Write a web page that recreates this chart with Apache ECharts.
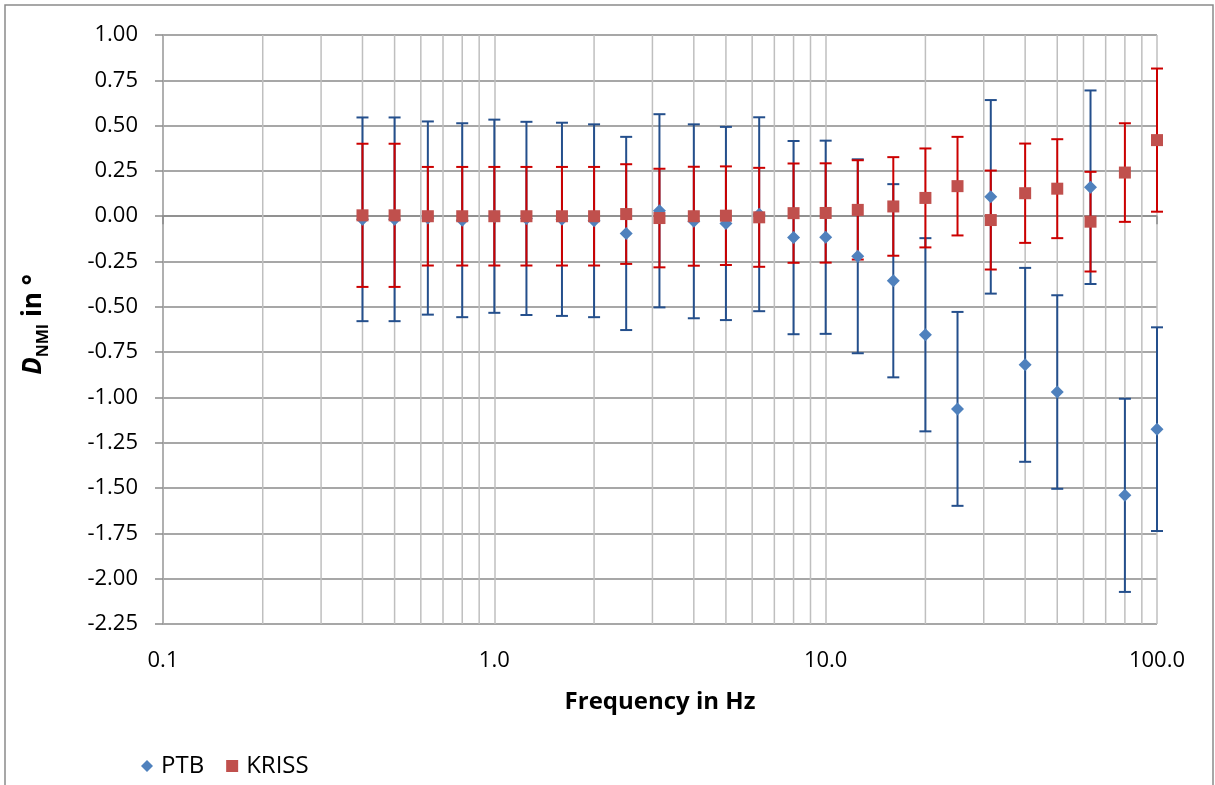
<!DOCTYPE html>
<html>
<head>
<meta charset="utf-8">
<script src="https://cdn.jsdelivr.net/npm/echarts@6/dist/echarts.min.js"></script>
<style>
  html, body { margin: 0; padding: 0; background: #fff; }
  #chart { width: 1215px; height: 785px; }
</style>
</head>
<body>
<div id="chart"></div>
<script>
// frequencies in Hz
var freq = [0.4, 0.5, 0.63, 0.8, 1.0, 1.25, 1.6, 2.0, 2.5, 3.15, 4.0, 5.0, 6.3, 8.0, 10, 12.5, 16, 20, 25, 31.5, 40, 50, 63, 80, 100];

var ptbVal = [-0.017, -0.017, -0.01, -0.022, 0.0, -0.012, -0.017, -0.025, -0.095, 0.03, -0.028, -0.04, 0.011, -0.118, -0.116, -0.221, -0.356, -0.654, -1.063, 0.107, -0.82, -0.97, 0.16, -1.54, -1.175];
var ptbErr = [0.562, 0.562, 0.533, 0.535, 0.533, 0.533, 0.533, 0.532, 0.533, 0.533, 0.535, 0.533, 0.535, 0.533, 0.533, 0.535, 0.533, 0.533, 0.535, 0.534, 0.535, 0.534, 0.534, 0.533, 0.562];

var krissVal = [0.005, 0.005, 0.0, 0.0, 0.0, 0.0, 0.0, 0.0, 0.012, -0.01, 0.0, 0.003, -0.006, 0.017, 0.018, 0.035, 0.054, 0.101, 0.166, -0.021, 0.127, 0.152, -0.03, 0.241, 0.42];
var krissErr = [0.395, 0.395, 0.272, 0.272, 0.272, 0.272, 0.272, 0.272, 0.275, 0.272, 0.273, 0.272, 0.273, 0.274, 0.274, 0.274, 0.272, 0.273, 0.272, 0.273, 0.274, 0.273, 0.275, 0.272, 0.395];

// minor log gridlines
var minorGrid = [0.2, 0.3, 0.4, 0.5, 0.6, 0.7, 0.8, 0.9, 2, 3, 4, 5, 6, 7, 8, 9, 20, 30, 40, 50, 60, 70, 80, 90];

var yMin = -2.25, yMax = 1.0;
var font = 'Open Sans';

var chart = echarts.init(document.getElementById('chart'));

function points(vals) {
    return freq.map(function (f, i) { return [f, vals[i]]; });
}
function bars(vals, errs) {
    return freq.map(function (f, i) { return [f, vals[i] - errs[i], vals[i] + errs[i]]; });
}

function errorBar(color) {
    return function (params, api) {
        var top = api.coord([api.value(0), api.value(2)]);
        var bot = api.coord([api.value(0), api.value(1)]);
        var hw = 6;
        var st = { stroke: color, lineWidth: 2 };
        return {
            type: 'group',
            children: [
                { type: 'line', shape: { x1: top[0], y1: top[1], x2: bot[0], y2: bot[1] }, style: st },
                { type: 'line', shape: { x1: top[0] - hw, y1: top[1], x2: top[0] + hw, y2: top[1] }, style: st },
                { type: 'line', shape: { x1: bot[0] - hw, y1: bot[1], x2: bot[0] + hw, y2: bot[1] }, style: st }
            ]
        };
    };
}

option = {
    animation: false,
    textStyle: { fontFamily: font },
    graphic: [{
        type: 'rect',
        shape: { x: 5, y: 5, width: 1208, height: 800 },
        style: { fill: null, stroke: '#8a8a8a', lineWidth: 1.5 },
        silent: true
    }],
    grid: {
        left: 163,
        right: 58,
        top: 35,
        bottom: 161
    },
    legend: {
        data: ['PTB', 'KRISS'],
        left: 136,
        top: 749,
        itemWidth: 12,
        itemHeight: 12,
        itemGap: 22,
        textStyle: { fontFamily: font, fontSize: 24, color: '#000', padding: [0, 0, 0, 3] }
    },
    xAxis: {
        type: 'log',
        logBase: 10,
        min: 0.1,
        max: 100,
        name: 'Frequency in Hz',
        nameLocation: 'middle',
        nameGap: 66,
        nameTextStyle: { fontFamily: font, fontSize: 24, fontWeight: 'bold', color: '#000' },
        axisLine: { lineStyle: { color: '#8a8a8a', width: 1.5 } },
        axisTick: { show: true, length: 8, lineStyle: { color: '#8a8a8a', width: 1.5 } },
        axisLabel: {
            margin: 26,
            fontSize: 22,
            color: '#000',
            showMinLabel: true,
            showMaxLabel: true,
            formatter: function (v) { return v.toFixed(1); }
        },
        splitLine: { show: true, lineStyle: { color: '#bfbfbf', width: 1.5 } }
    },
    yAxis: {
        type: 'value',
        min: yMin,
        max: yMax,
        interval: 0.25,
        name: '{i|D}{s|NMI}{b| in °}',
        nameLocation: 'middle',
        nameGap: 112,
        nameTextStyle: {
            padding: [0, 0, 0, 10],
            rich: {
                i: { fontFamily: font, fontSize: 26, fontWeight: 'bold', fontStyle: 'italic', color: '#000', lineHeight: 34, verticalAlign: 'middle' },
                s: { fontFamily: font, fontSize: 16, fontWeight: 'bold', color: '#000', lineHeight: 16, verticalAlign: 'bottom' },
                b: { fontFamily: font, fontSize: 26, fontWeight: 'bold', color: '#000', lineHeight: 34, verticalAlign: 'middle' }
            }
        },
        axisLine: { show: true, lineStyle: { color: '#a6a6a6', width: 1.5 } },
        axisTick: { show: true, length: 8, lineStyle: { color: '#8a8a8a', width: 1.5 } },
        axisLabel: {
            margin: 25,
            fontSize: 22,
            color: '#000',
            formatter: function (v) { return v.toFixed(2); }
        },
        splitLine: { show: true, lineStyle: { color: '#8a8a8a', width: 1.5 } }
    },
    series: [
        {
            name: 'minorgrid',
            type: 'custom',
            silent: true,
            z: 1,
            data: minorGrid,
            renderItem: function (params, api) {
                var a = api.coord([api.value(0), yMin]);
                var b = api.coord([api.value(0), yMax]);
                return {
                    type: 'line',
                    shape: { x1: a[0], y1: a[1], x2: b[0], y2: b[1] },
                    style: { stroke: '#bfbfbf', lineWidth: 1.5 }
                };
            },
            encode: { x: 0 }
        },
        {
            name: 'PTB err',
            type: 'custom',
            z: 2,
            renderItem: errorBar('#244f8c'),
            data: bars(ptbVal, ptbErr),
            encode: { x: 0, y: [1, 2] }
        },
        {
            name: 'KRISS err',
            type: 'custom',
            z: 3,
            renderItem: errorBar('#cc0000'),
            data: bars(krissVal, krissErr),
            encode: { x: 0, y: [1, 2] }
        },
        {
            name: 'PTB',
            type: 'scatter',
            z: 4,
            symbol: 'diamond',
            symbolSize: 13,
            itemStyle: { color: '#4f81bd', opacity: 1 },
            data: points(ptbVal)
        },
        {
            name: 'KRISS',
            type: 'scatter',
            z: 5,
            symbol: 'rect',
            symbolSize: 12,
            itemStyle: { color: '#c0504d', opacity: 1 },
            data: points(krissVal)
        }
    ]
};

chart.setOption(option);
</script>
</body>
</html>
